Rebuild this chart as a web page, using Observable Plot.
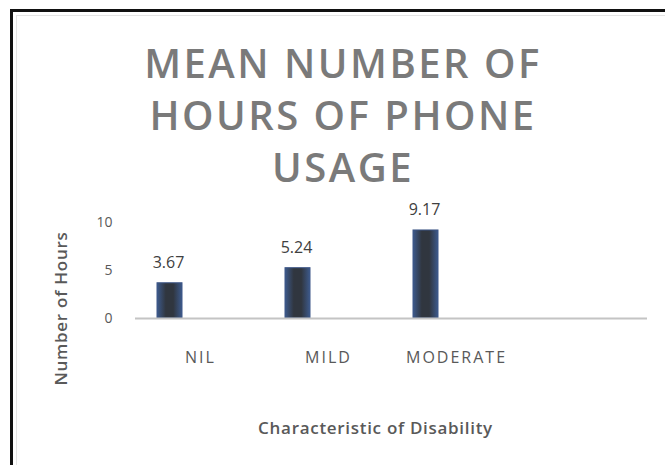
<!DOCTYPE html>
<html>
<head>
<meta charset="utf-8">
<script src="https://cdn.jsdelivr.net/npm/d3@7"></script>
<script src="https://cdn.jsdelivr.net/npm/@observablehq/plot@0.6"></script>
<style>
  html, body { margin: 0; padding: 0; background: #fff; }
  #wrap { position: relative; width: 665px; height: 465px; overflow: hidden; font-family: "Open Sans", sans-serif; }
  #wrap svg { position: absolute; left: 0; top: 0; }
  .edge { position: absolute; background: #111; }
  .inner { position: absolute; background: #e4e4e4; }
  #title {
    position: absolute; left: 0; width: 686px; top: 37px;
    text-align: center; color: #7a7a7a; font-weight: 600;
    font-size: 40px; line-height: 52px; letter-spacing: 2.5px;
  }
</style>
</head>
<body>
<div id="wrap">
  <div class="edge" style="left:10px;top:9px;width:655px;height:3px"></div>
  <div class="edge" style="left:10px;top:9px;width:3px;height:456px"></div>
  <div class="inner" style="left:16px;top:15px;width:649px;height:1px"></div>
  <div class="inner" style="left:16px;top:15px;width:1px;height:450px"></div>
  <div id="title">MEAN NUMBER OF<br>HOURS OF PHONE<br>USAGE</div>
</div>
<script>
// Mean daily phone usage by severity of disability
const categories = ["NIL", "MILD", "MODERATE"];
const hours = [3.67, 5.24, 9.17];
const yTicks = [0, 5, 10];
const yTitle = "Number of Hours";
const xTitle = "Characteristic of Disability";

const rows = categories.map((c, i) => ({category: c, hours: hours[i]}));

const chart = Plot.plot({
  width: 665,
  height: 465,
  marginLeft: 135,
  marginRight: 18,
  marginTop: 222,
  marginBottom: 147,
  style: {fontFamily: "Open Sans, sans-serif", background: "transparent", overflow: "visible"},
  x: {domain: [...categories, ""], padding: 0, axis: null},
  y: {domain: [0, 10], axis: null},
  marks: [
    Plot.axisX({ticks: categories, tickSize: 0, tickPadding: 33, fontSize: 16, fill: "#595959", label: null, dx: 1}),
    Plot.axisY({ticks: yTicks, tickSize: 0, tickPadding: 23, fontSize: 14, fill: "#595959", label: null}),
    Plot.barY(rows, {x: "category", y: "hours", insetLeft: 22, insetRight: 81,
      fill: "url(#barShade)", stroke: "#3d5687", strokeWidth: 1}),
    Plot.ruleY([0], {stroke: "#c4c4c4", strokeWidth: 2}),
    Plot.text(rows, {x: "category", y: "hours", text: d => d.hours.toFixed(2), dx: -31, dy: -15,
      lineAnchor: "bottom", fontSize: 16, fill: "#404040"}),
    Plot.text([yTitle], {frameAnchor: "left", textAnchor: "middle", rotate: -90, dx: -74, dy: 38,
      fontSize: 17, fill: "#595959", fontWeight: 600}),
    Plot.text([xTitle], {frameAnchor: "bottom", dx: -16, dy: 115,
      lineAnchor: "bottom", fontSize: 17, fill: "#595959", fontWeight: 600})
  ]
});

// wider tracking on the category names and the axis titles
const spacing = new Map([[yTitle, "0.75px"], [xTitle, "0.7px"], ...categories.map(c => [c, "2px"])]);
d3.select(chart).selectAll("text").each(function() {
  const s = spacing.get(this.textContent);
  if (s) this.setAttribute("letter-spacing", s);
});

// horizontal shading used by the bars: blue edges, dark core
const defs = d3.select(chart).insert("defs", ":first-child");
const grad = defs.append("linearGradient").attr("id", "barShade")
  .attr("x1", "0").attr("x2", "1").attr("y1", "0").attr("y2", "0");
grad.append("stop").attr("offset", "0%").attr("stop-color", "#3d5a8c");
grad.append("stop").attr("offset", "35%").attr("stop-color", "#30363f");
grad.append("stop").attr("offset", "65%").attr("stop-color", "#30363f");
grad.append("stop").attr("offset", "100%").attr("stop-color", "#3d5a8c");

document.getElementById("wrap").appendChild(chart);
</script>
</body>
</html>
